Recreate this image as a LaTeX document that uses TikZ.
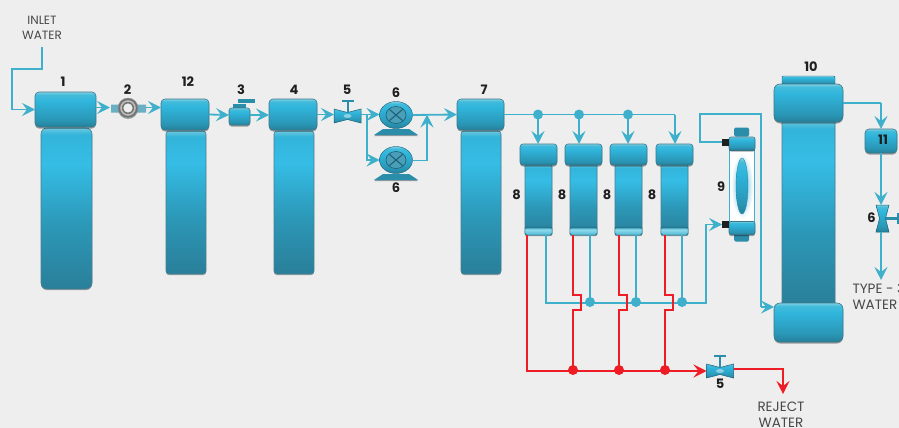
\documentclass[tikz,border=0pt]{standalone}
\usepackage{fontspec}
\setmainfont{Poppins}
\usetikzlibrary{arrows.meta,shapes.geometric,shadows,calc}
\definecolor{bgc}{HTML}{EEEEEE}
\definecolor{pipe}{HTML}{3FB0CC}
\definecolor{redp}{HTML}{EE1C25}
\definecolor{edgec}{HTML}{1A5F75}
\definecolor{steel}{HTML}{2A8DAA}
\definecolor{sa}{HTML}{25809B}
\definecolor{sb}{HTML}{2A96B5}
\definecolor{sc}{HTML}{30B5DC}
\definecolor{sd}{HTML}{42BBDA}
\definecolor{se}{HTML}{7FD0E4}
\definecolor{sf}{HTML}{2A7F99}
\definecolor{sg}{HTML}{2C98B8}
\definecolor{sh}{HTML}{35BDE6}
\definecolor{si}{HTML}{33B4DA}
\definecolor{sj}{HTML}{6CC8DF}
\definecolor{sk}{HTML}{4FB7D3}
\definecolor{sl}{HTML}{8FDDEE}
\definecolor{sm}{HTML}{7FC9E2}
\definecolor{sn}{HTML}{A5DAEC}
\pgfdeclareverticalshading{capshade}{100bp}{color(0bp)=(sa);color(25bp)=(sa);color(35bp)=(sb);color(62bp)=(sc);color(71bp)=(sd);color(75bp)=(se);color(100bp)=(se)}
\pgfdeclareverticalshading{bodyshade}{100bp}{color(0bp)=(sf);color(25bp)=(sf);color(45bp)=(sg);color(64bp)=(sh);color(73bp)=(si);color(75bp)=(sj);color(100bp)=(sj)}
\pgfdeclareverticalshading{bandshade}{100bp}{color(0bp)=(sk);color(25bp)=(sk);color(60bp)=(sl);color(75bp)=(sa);color(100bp)=(sa)}
\pgfdeclareradialshading{lensglow}{\pgfpointorigin}{color(0bp)=(sm);color(12bp)=(sn);color(25bp)=(white);color(50bp)=(white)}
\tikzset{
  shp/.style={inner sep=0pt,outer sep=0pt},
  capbox/.style={shp,rectangle,rounded corners=4pt,shading=capshade,draw=edgec!85,line width=.6pt,
    drop shadow={shadow xshift=0pt,shadow yshift=-1.5pt,opacity=.35,fill=black}},
  bodybox/.style={shp,rectangle,rounded corners=3pt,shading=bodyshade,draw=edgec!80,line width=.6pt,
    drop shadow={shadow xshift=0pt,shadow yshift=-1.2pt,opacity=.3,fill=black}},
  flat/.style={shp,rectangle,rounded corners=1pt,shading=capshade,draw=edgec,line width=.4pt},
  bandbox/.style={shp,rectangle,rounded corners=1.5pt,shading=bandshade,draw=edgec,line width=.4pt},
  pipeline/.style={draw=pipe,line width=1.8pt,-{Stealth[length=13pt,width=13pt,inset=5pt]}},
  pipeplain/.style={draw=pipe,line width=1.8pt},
  redline/.style={draw=redp,line width=1.9pt,-{Stealth[length=13pt,width=13pt,inset=5pt]}},
  redplain/.style={draw=redp,line width=1.9pt},
  pipedot/.style={shp,circle,fill=pipe,minimum size=10pt},
  reddot/.style={shp,circle,fill=redp,minimum size=10pt},
  num/.style={shp,font=\bfseries\fontsize{13}{13}\selectfont,text=black!88},
  lab/.style={shp,align=center,font=\fontsize{12}{15.5}\selectfont,text=black!72},
  labw/.style={shp,font=\fontsize{13.5}{16}\selectfont,text=black!72},
  plug/.style={shp,rectangle,fill=black!88,minimum width=7pt,minimum height=7pt},
}
% horizontal valve with a stem: name, x, y
\newcommand{\hvalve}[3]{%
  \node[shp,minimum width=27pt,minimum height=14pt] (#1) at (#2,#3) {};
  \begin{scope}[shift={(#2,#3)}]
    \path[shading=capshade,draw=edgec,line width=.5pt] (-13.5,-7) -- (0,-3.5) -- (13.5,-7) -- (13.5,7) -- (0,3.5) -- (-13.5,7) -- cycle;
    \fill[steel] (-1,-3) rectangle (1,-14);
    \fill[steel] (-6,-16) rectangle (6,-14);
    \fill[white,opacity=.45] (0,0) ellipse (4 and 2);
  \end{scope}}
% pump: name, x, y
\newcommand{\pumpunit}[3]{%
  \begin{scope}[shift={(#2,#3)}]
    \fill[steel,drop shadow={shadow xshift=0pt,shadow yshift=-1.2pt,opacity=.35,fill=black}] (-13,14) -- (13,14) -- (22,20) -- (-22,20) -- cycle;
  \end{scope}
  \node[shp,ellipse,minimum width=33pt,minimum height=27pt,shading=capshade,draw=edgec,line width=.4pt] (#1) at (#2,#3) {};
  \begin{scope}[shift={(#2,#3)}]
    \draw[edgec,fill=steel!85!white,line width=.6pt] (0,0) ellipse (10 and 8.5);
    \draw[edgec,line width=1pt] (-6.5,-5.5) -- (6.5,5.5) (-6.5,5.5) -- (6.5,-5.5);
  \end{scope}}
% membrane column: name, cap centre x
\newcommand{\columnunit}[2]{%
  \node[bodybox,rounded corners=1pt,minimum width=27pt,minimum height=70pt] (#1b) at (#2,200) {};
  \node[bandbox,minimum width=27pt,minimum height=8pt] (#1f) at (#2,231) {};
  \node[capbox,rounded corners=3pt,minimum width=37pt,minimum height=21pt] (#1) at (#2,154.5) {};}
\begin{document}
\begin{tikzpicture}[x=1pt,y=-1pt]
\useasboundingbox (0,0) rectangle (899,428);
\fill[bgc] (0,0) rectangle (899,428);

% main vessels
\node[bodybox,rounded corners=6pt,minimum width=51pt,minimum height=161pt] (b1) at (66.5,208.5) {};
\node[capbox,minimum width=61pt,minimum height=35pt] (c1) at (65.5,109.5) {};
\node[bodybox,minimum width=40pt,minimum height=143pt] (b12) at (186,202.5) {};
\node[capbox,minimum width=48pt,minimum height=31pt] (c12) at (185,114.5) {};
\node[bodybox,minimum width=40pt,minimum height=143pt] (b4) at (294,202.5) {};
\node[capbox,minimum width=48pt,minimum height=31pt] (c4) at (293,114.5) {};
\node[bodybox,minimum width=40pt,minimum height=143pt] (b7) at (481,202.5) {};
\node[capbox,minimum width=47pt,minimum height=31pt] (c7) at (480.5,114.5) {};

% strainer 2
\fill[steel!70!white] (111,104.5) rectangle (120,112.5) (137,104.5) rectangle (146,112.5);
\node[shp,circle,minimum size=20pt,fill=black!55,draw=black!40,line width=.4pt,
  drop shadow={shadow xshift=0pt,shadow yshift=-1pt,opacity=.3,fill=black}] (v2) at (128,108) {};
\draw[black!25,line width=1.5pt] (128,108) circle (7);
\fill[bgc] (128,108) circle (4.6);

% valve 3
\fill[steel] (233,103.5) rectangle (246,107.5);
\fill[steel] (238,99) rectangle (255,103);
\node[capbox,rounded corners=2.5pt,minimum width=21pt,minimum height=17pt] (v3) at (239.5,116.5) {};

% valves and pumps
\hvalve{v5a}{347.5}{116}
\pumpunit{p1}{396}{115}
\pumpunit{p2}{396}{160}
\hvalve{v5b}{720}{371}

% membrane columns
\columnunit{m1}{538.5}
\columnunit{m2}{583.5}
\columnunit{m3}{628.5}
\columnunit{m4}{674.5}

% unit 9
\node[shp,rectangle,rounded corners=1.5pt,fill=steel,minimum width=15pt,minimum height=9pt] (k9a) at (741.5,132) {};
\node[shp,rectangle,rounded corners=1.5pt,fill=steel,minimum width=15pt,minimum height=9pt] (k9b) at (741.5,237) {};
\node[shp,rectangle,fill=white,draw=pipe,line width=1.4pt,minimum width=25pt,minimum height=72pt] (w9) at (742,186) {};
\shade[shading=lensglow] (742,186) ellipse (11 and 33);
\node[shp,ellipse,shading=capshade,draw=steel,line width=.4pt,minimum width=12pt,minimum height=56pt] (l9) at (742,186) {};
\node[capbox,rounded corners=2pt,minimum width=26pt,minimum height=13pt] (t9) at (742,143.5) {};
\node[capbox,rounded corners=2pt,minimum width=26pt,minimum height=13pt] (u9) at (742,228) {};
\node[plug] (pa) at (725.5,142) {};
\node[plug] (pb) at (725.5,224.5) {};

% column 10
\node[bodybox,rounded corners=1pt,minimum width=53pt,minimum height=184pt] (b10) at (808.5,213) {};
\node[flat,minimum width=53pt,minimum height=8pt] (t10) at (808.5,80) {};
\node[capbox,rounded corners=6pt,minimum width=69pt,minimum height=38pt] (c10) at (808.5,103) {};
\node[capbox,rounded corners=6pt,minimum width=69pt,minimum height=39pt] (d10) at (808.5,322.5) {};

% unit 11
\node[capbox,minimum width=32pt,minimum height=24pt] (c11) at (881,141) {};

% vertical valve 6
\node[shp,minimum width=13pt,minimum height=27pt] (v6) at (882.5,218.5) {};
\fill[steel] (882.5,217) rectangle (899,220);
\fill[steel] (897,213) rectangle (899,224);
\path[shading=capshade,draw=edgec,line width=.5pt] (876,205) -- (889,205) -- (885.5,218.5) -- (889,232) -- (876,232) -- (879.5,218.5) -- cycle;

% named junctions
\coordinate (i0) at (42,47);
\coordinate (i1) at (42,69);
\coordinate (i2) at (12,69);
\coordinate (i3) at (12,109.5);
\coordinate (j1) at (538,114.5);
\coordinate (j2) at (579,114.5);
\coordinate (j3) at (628,114.5);
\coordinate (j4) at (675,114.5);
\coordinate (s1) at (367,114.5);
\coordinate (s2) at (367,160);
\coordinate (s3) at (427,160.5);
\coordinate (s4) at (427,114.5);
\coordinate (r1) at (700,142);
\coordinate (r2) at (700,114);
\coordinate (r3) at (761,114);
\coordinate (r4) at (761,307);
\coordinate (q0) at (546,235);
\coordinate (q1) at (546,303);
\coordinate (q2) at (706,303);
\coordinate (q3) at (706,224.5);
\coordinate (d1) at (590,302);
\coordinate (d2) at (636,302);
\coordinate (d3) at (682,302);
\coordinate (u1) at (590,235);
\coordinate (u2) at (636,235);
\coordinate (u3) at (682,235);
\coordinate (g0) at (527,235);
\coordinate (g1) at (527,371);
\coordinate (e1) at (573,370);
\coordinate (e2) at (619,370);
\coordinate (e3) at (665,370);
\coordinate (o1) at (783,369);
\coordinate (o2) at (783,394);
\coordinate (a1) at (881,103);
\coordinate (f1) at (881,280);

% blue connectors
\draw[pipeline] (i0) -- (i1) -- (i2) -- (i3) -- (c1.west);
\draw[pipeline] ([yshift=2pt]c1.east) -- (110,107.5);
\draw[pipeline] (146,107.5) -- (c12.west |- 0,107.5);
\draw[pipeline] (c12.east) -- (v3.west |- 0,115);
\draw[pipeline] (v3.east |- 0,115) -- (c4.west |- 0,115);
\draw[pipeline] (c4.east) -- (v5a.west |- c4.east);
\draw[pipeline] (v5a.east |- s1) -- (p1.west |- s1);
\draw[pipeline] (s1) -- (s2) -- (p2.west);
\draw[pipeline] (p1.east) -- (c7.west);
\draw[pipeline] (p2.east |- s3) -- (s3) -- (s4);
\draw[pipeplain] (c7.east) -- (j4);
\draw[pipeline] (j4) -- (m4.north -| j4);
\draw[pipeline] (j1) -- (m1.north -| j1);
\draw[pipeline] (j2) -- (m2.north -| j2);
\draw[pipeline] (j3) -- (m3.north -| j3);
\node[pipedot] (dj1) at (j1) {};
\node[pipedot] (dj2) at (j2) {};
\node[pipedot] (dj3) at (j3) {};
\draw[pipeplain] (pa.west) -- (r1) -- (r2) -- (r3) -- (r4);
\draw[pipeline] (r4) -- (d10.west |- r4);
\draw[pipeplain] (u1) -- (d1);
\draw[pipeplain] (u2) -- (d2);
\draw[pipeplain] (u3) -- (d3);
\draw[pipeline] (q0) -- (q1) -- (q2) -- (q3) -- (pb.west);
\node[pipedot] (dd1) at (d1) {};
\node[pipedot] (dd2) at (d2) {};
\node[pipedot] (dd3) at (d3) {};
\draw[pipeplain] (c10.east) -- (a1);
\draw[pipeline] (a1) -- (c11.north -| a1);
\draw[pipeline] (c11.south -| f1) -- (v6.north -| f1);
\draw[pipeline] (v6.south -| f1) -- (f1);

% red connectors
\draw[redline] (g0) -- (g1) -- (v5b.west |- g1);
\draw[redplain] (m2f.south -| e1) -- (573,295) -- (581,295) -- (581,310) -- (573,310) -- (e1);
\draw[redplain] (m3f.south -| e2) -- (619,295) -- (627,295) -- (627,310) -- (619,310) -- (e2);
\draw[redplain] (m4f.south -| e3) -- (665,295) -- (673,295) -- (673,310) -- (665,310) -- (e3);
\node[reddot] (de1) at (e1) {};
\node[reddot] (de2) at (e2) {};
\node[reddot] (de3) at (e3) {};
\draw[redline] (v5b.east |- o1) -- (o1) -- (o2);

% labels
\node[lab] (tin) at (42,28) {INLET\\WATER};
\node[labw,align=center] (trj) at (781,415) {REJECT\\WATER};
\node[labw,anchor=west,align=left] (tty) at (852.5,297) {TYPE - 3\\WATER};
\node[num] (n1) at (63,82) {1};
\node[num] (n2) at (127.5,90) {2};
\node[num] (n12) at (188,82) {12};
\node[num] (n3) at (241,90) {3};
\node[num] (n4) at (294,90) {4};
\node[num] (n5a) at (347,90) {5};
\node[num] (n6a) at (396,93) {6};
\node[num] (n6b) at (396,188) {6};
\node[num] (n7) at (484,90) {7};
\node[num] (n8a) at (516.5,195) {8};
\node[num] (n8b) at (562,195) {8};
\node[num] (n8c) at (607,195) {8};
\node[num] (n8d) at (652,195) {8};
\node[num] (n9) at (721,187) {9};
\node[num] (n10) at (811,67) {10};
\node[num] (n11) at (883,140) {11};
\node[num] (n6c) at (871.5,218) {6};
\node[num] (n5b) at (720,384) {5};
\end{tikzpicture}
\end{document}
